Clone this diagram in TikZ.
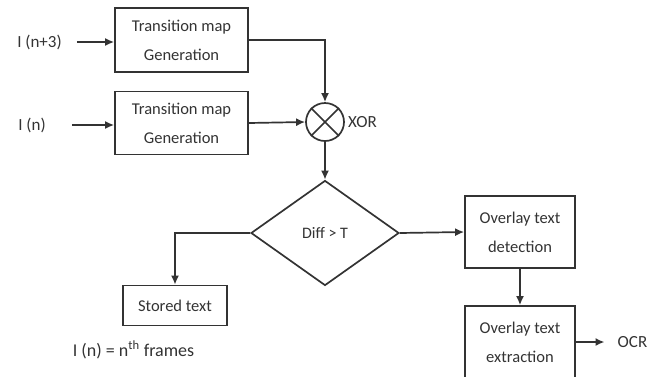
\documentclass[tikz,border=0pt]{standalone}
\usepackage{fontspec}
\setmainfont{Carlito}
\usetikzlibrary{arrows.meta,shapes.geometric,positioning}
\tikzset{
    line/.style = {draw=black!80, line width=1.7pt},
    arr/.style = {line, -{Latex[length=9pt,width=8pt]}},
    block/.style = {line, rectangle, align=center, inner sep=0pt,
        font=\fontsize{16.5}{29}\selectfont, text=black!80},
    lbl/.style = {inner sep=0pt, font=\fontsize{17}{20}\selectfont, text=black!80}
}

\begin{document}
\begin{tikzpicture}[x=1pt, y=-1pt]

        \useasboundingbox (0,0) rectangle (662,376);

        % Inputs and transition maps.
        \node[lbl] (inA) at (39.5,42) {I (n+3)};
        \node[lbl] (inB) at (32,125) {I (n)};
        \node[block, minimum width=133pt, minimum height=64pt] (mapA) at (181.5,40) {Transition map\\Generation};
        \node[block, minimum width=133pt, minimum height=63pt] (mapB) at (181.5,123) {Transition map\\Generation};

        % XOR of the two maps.
        \node[line, circle, minimum size=38pt, inner sep=0pt] (xor) at (325,122) {};
        \draw[line] (xor.north west) -- (xor.south east);
        \draw[line] (xor.north east) -- (xor.south west);
        \node[lbl, right=3pt of xor] (xorlbl) {XOR};

        % Decision.
        \node[line, diamond, minimum width=148pt, minimum height=105pt, inner sep=0pt,
              font=\fontsize{16}{18}\selectfont, text=black!80] (diff) at (325,233) {Diff > T};
        \node[block, minimum width=104pt, minimum height=40pt] (stored) at (175,305.5) {Stored text};
        \node[block, minimum width=110pt, minimum height=72pt] (detect) at (520,232) {Overlay text\\detection};
        \node[block, minimum width=110pt, minimum height=72pt] (extract) at (520,342) {Overlay text\\extraction};
        \node[lbl] (ocr) at (632.5,342) {OCR};

        % Note.
        \node[lbl, font=\fontsize{18}{20}\selectfont] (note) at (133.5,350) {I (n) = n\textsuperscript{th} frames};

        % Connectors.
        \draw[arr, shorten <=15pt] (inA.east) -- (inA.east -| mapA.west);
        \draw[arr, shorten <=26pt] (inB.east) -- (inB.east -| mapB.west);
        \draw[arr] (mapA.east) -| (xor.north);
        \draw[arr] (mapB.east) -- (xor.west);
        \draw[arr] (xor.south) -- (diff.north);
        \draw[arr] (diff.west) -| (stored.north);
        \draw[arr] (diff.east) -- (detect.west);
        \draw[arr] (detect.south) -- (extract.north);
        \draw[arr, shorten >=13pt] (extract.east |- ocr.west) -- (ocr.west);

\end{tikzpicture}
\end{document}
